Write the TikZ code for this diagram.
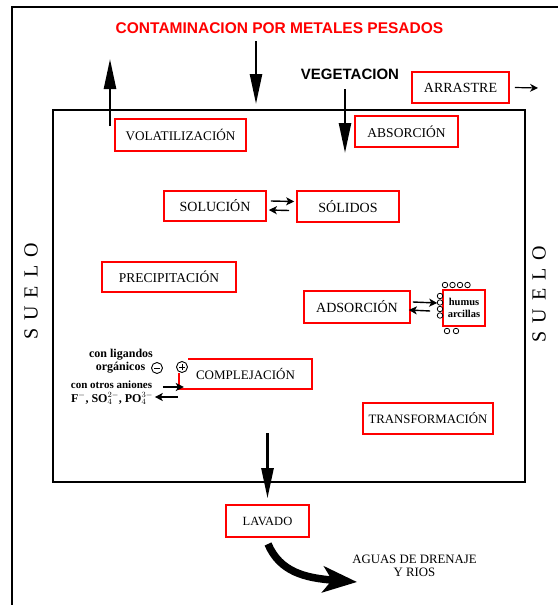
\documentclass[tikz,border=0pt]{standalone}
\usepackage{fontspec}
\setmainfont{Liberation Serif}
\newfontfamily\titlefont{Liberation Sans}
\usetikzlibrary{arrows.meta}
\begin{document}
\begin{tikzpicture}[x=1pt,y=-1pt,
  box/.style={draw=red, line width=1.6pt, inner sep=0pt, text=black},
  fs/.style={font=\fontsize{#1}{#1}\selectfont},
  bigarrow/.style={line width=2.5pt, -{Triangle[length=30pt,width=12pt]}},
  eqarrow/.style={line width=1.4pt, -{Stealth[length=8pt,width=8pt,inset=2pt]}},
  smallarrow/.style={line width=1.2pt, -{Stealth[length=8pt,width=8pt]}},
  ring/.style={circle, draw=black, line width=0.8pt, minimum size=5.5pt, inner sep=0pt},
  label/.style={inner sep=0pt, font=\fontsize{12}{12}\selectfont\bfseries},
  side/.style={inner sep=0pt, rotate=90, font=\fontsize{20}{20}\selectfont}
]
\useasboundingbox (0,0) rectangle (557,605);
\fill[white] (0,0) rectangle (557,605);
% outer frame and soil block
\draw[line width=2.5pt] (12,606) -- (12,7) -- (558,7);
\draw[line width=2.5pt] (53,110) rectangle (525,482);

% title and vegetation
\node[inner sep=0pt, text=red, font=\titlefont\fontsize{15.5}{15.5}\selectfont\bfseries] (title) at (279.5,28) {CONTAMINACION POR METALES PESADOS};
\node[inner sep=0pt, font=\titlefont\fontsize{15}{15}\selectfont\bfseries] (veg) at (350,74) {VEGETACION};

% boxes
\node[box, fs=13.2, minimum width=131pt, minimum height=32pt] (vol) at (180.5,135) {VOLATILIZACIÓN};
\node[box, fs=13.5, minimum width=103pt, minimum height=31pt] (abs) at (406.5,131.5) {ABSORCIÓN};
\node[box, fs=14, minimum width=97pt, minimum height=31pt] (arr) at (460.5,87.5) {ARRASTRE};
\node[box, fs=14, minimum width=102pt, minimum height=30pt] (sol) at (215,206) {SOLUCIÓN};
\node[box, fs=14, minimum width=102pt, minimum height=31pt] (soli) at (348,206.5) {SÓLIDOS};
\node[box, fs=13.5, minimum width=134pt, minimum height=30pt] (prec) at (169,277) {PRECIPITACIÓN};
\node[box, fs=14, minimum width=106pt, minimum height=32pt] (ads) at (357,307) {ADSORCIÓN};
\node[box, minimum width=42pt, minimum height=36pt, align=center,
      font=\fontsize{10.5}{12.5}\selectfont\bfseries] (hum) at (464,308) {humus\\arcillas};
\node[inner sep=0pt, fs=13, minimum width=133pt, minimum height=30pt] (comp) at (245.5,374) {COMPLEJACIÓN};
\draw[red, line width=1.6pt] ([yshift=-14pt]comp.north west) -- (comp.south west) -- (comp.south east) -- (comp.north east) -- ([xshift=9pt]comp.north west);
\node[box, fs=12.8, minimum width=130pt, minimum height=31pt] (trans) at (428,418.5) {TRANSFORMACIÓN};
\node[box, fs=12.5, minimum width=83pt, minimum height=32pt] (lav) at (267.5,521) {LAVADO};

% side labels
\node[side] (sueloL) at (31,291.5) {S\hspace{8pt}U\hspace{8pt}E\hspace{8pt}L\hspace{8pt}O};
\node[side] (sueloR) at (539,294) {S\hspace{8pt}U\hspace{8pt}E\hspace{8pt}L\hspace{8pt}O};

% bottom text
\node[inner sep=0pt, align=center, font=\fontsize{12.8}{12.5}\selectfont] (aguas) at (414.5,566) {AGUAS DE DRENAJE\\Y RIOS};

% complexation labels
\node[label] (lig) at (121,355) {con ligandos};
\node[label] (org) at (120.5,368) {orgánicos};
\node[circle, draw=black, line width=0.9pt, minimum size=11pt, inner sep=0pt] (minus) at (157,368) {};
\draw[line width=0.9pt] ([xshift=-3pt]minus.center) -- ([xshift=3pt]minus.center);
\node[circle, draw=black, fill=white, line width=0.9pt, minimum size=11pt, inner sep=0pt] (plus) at (182,367) {};
\draw[line width=0.9pt] ([xshift=-3pt]plus.center) -- ([xshift=3pt]plus.center)
  ([yshift=-3pt]plus.center) -- ([yshift=3pt]plus.center);
\node[label, font=\fontsize{11}{11}\selectfont\bfseries] (otros) at (111.5,384.5) {con otros aniones};
\node[label, font=\fontsize{12}{12}\selectfont\bfseries] (anions) at (112,398.5) {F$^{-}$, SO$_4^{2-}$, PO$_4^{3-}$};

% small rings around humus box
\foreach \i/\x in {1/445,2/452.5,3/460,4/467.5}
  \node[ring] (t\i) at (\x,285) {};
\foreach \i/\y in {1/296,2/302.5,3/309,4/315.5}
  \node[ring] (l\i) at (440,\y) {};
\foreach \i/\x in {1/447,2/456}
  \node[ring] (b\i) at (\x,331) {};

% arrow end points
\coordinate (upbot) at (110,126);
\coordinate (uptip) at (110,59);
\coordinate (titletop) at (256,41);
\coordinate (titletip) at (256,104);
\coordinate (vegtop) at (345,89);
\coordinate (vegtip) at (345,153);
\coordinate (lavtop) at (267.5,433);
\coordinate (arrtip) at (538,88);
\coordinate (cstart) at (268,544);
\coordinate (cend) at (357,582);

% main arrows
\draw[bigarrow] (upbot) -- (uptip);
\draw[bigarrow] (titletop) -- (titletip);
\draw[bigarrow] (vegtop) -- (vegtip);
\draw[bigarrow, shorten >=6pt] (lavtop) -- (lav.north);
\draw[smallarrow] ([xshift=5pt]arr.east) -- (arrtip);
\draw[line width=7.5pt, -{Stealth[length=34pt,width=26pt,inset=9pt]}] (cstart) .. controls (280,572) and (305,578) .. (cend);

% equilibrium arrows
\draw[eqarrow] ([xshift=4pt,yshift=5pt]sol.east) -- ([xshift=-2pt,yshift=5pt]soli.west);
\draw[eqarrow] ([xshift=-7pt,yshift=-4pt]soli.west) -- ([xshift=2pt,yshift=-4pt]sol.east);
\draw[eqarrow] ([xshift=2pt,yshift=5pt]ads.east) -- ([xshift=-5pt,yshift=5pt]hum.west);
\draw[eqarrow] ([xshift=-12pt,yshift=-3pt]hum.west) -- ([xshift=-2pt,yshift=-3pt]ads.east);
\draw[eqarrow] ([xshift=-16pt,yshift=-13pt]comp.west) -- ([xshift=5pt,yshift=-13pt]comp.west);
\draw[eqarrow] ([xshift=-1pt,yshift=-23pt]comp.west) -- ([xshift=-24pt,yshift=-23pt]comp.west);
\end{tikzpicture}
\end{document}
